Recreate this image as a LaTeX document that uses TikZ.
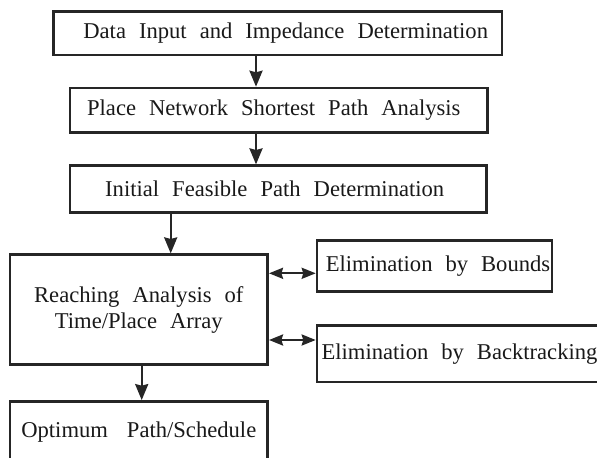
\documentclass[tikz,border=0pt]{standalone}
\usepackage{fontspec}
\setmainfont{Liberation Serif}[WordSpace=2.3]
\usetikzlibrary{arrows.meta}
\colorlet{boxlinec}{black!85}
\colorlet{boxtextc}{black!90}

\begin{document}
\begin{tikzpicture}[x=0.5pt,y=-0.5pt,
  stepbox/.style={draw=boxlinec,line width=1.3pt,text=boxtextc,inner sep=0pt,align=center,
    font=\fontsize{11.3}{13}\selectfont},
  flow/.style={draw=boxlinec,line width=1.2pt,-{Stealth[length=8pt,width=6.5pt,inset=0.8pt]}},
  both/.style={draw=boxlinec,line width=1.2pt,{Stealth[length=7pt,width=5.5pt,inset=0.8pt]}-{Stealth[length=7pt,width=5.5pt,inset=0.8pt]}}]
\useasboundingbox (0,0) rectangle (597,458);

\node[stepbox,minimum width=224.4pt,minimum height=21.7pt] (input) at (277.7,33.3) {\hspace*{8pt}Data Input and Impedance Determination};
\node[stepbox,minimum width=208.9pt,minimum height=22.3pt] (shortest) at (278.8,110.3) {Place Network Shortest Path Analysis\hspace*{5pt}};
\node[stepbox,minimum width=208.2pt,minimum height=23.3pt] (feasible) at (278.2,189) {Initial Feasible Path Determination\hspace*{3.5pt}};
\node[stepbox,minimum width=128.9pt,minimum height=55pt] (reach) at (138.8,309.7) {Reaching Analysis of\\Time/Place Array};
\node[stepbox,minimum width=117.5pt,minimum height=25.3pt] (bounds) at (434.5,266) {\hspace*{3.5pt}Elimination by Bounds};
\node[stepbox,minimum width=142.5pt,minimum height=28.2pt] (backtrack) at (459.5,353.8) {Elimination by Backtracking};
\node[stepbox,minimum width=128.9pt,minimum height=30.3pt] (optimum) at (138.8,431.7) {Optimum\hspace{9.5pt}Path/Schedule};

\coordinate (ax) at (256,0);
\coordinate (bx) at (170.7,0);
\coordinate (cx) at (141.7,0);
\coordinate (ya) at (0,273.3);
\coordinate (yb) at (0,340);

\draw[flow] (input.south -| ax) -- (shortest.north -| ax);
\draw[flow] (shortest.south -| ax) -- (feasible.north -| ax);
\draw[flow] (feasible.south -| bx) -- (reach.north -| bx);
\draw[flow] (reach.south -| cx) -- (optimum.north -| cx);
\draw[both] (reach.east |- ya) -- (bounds.west |- ya);
\draw[both] (reach.east |- yb) -- (backtrack.west |- yb);
\end{tikzpicture}
\end{document}
